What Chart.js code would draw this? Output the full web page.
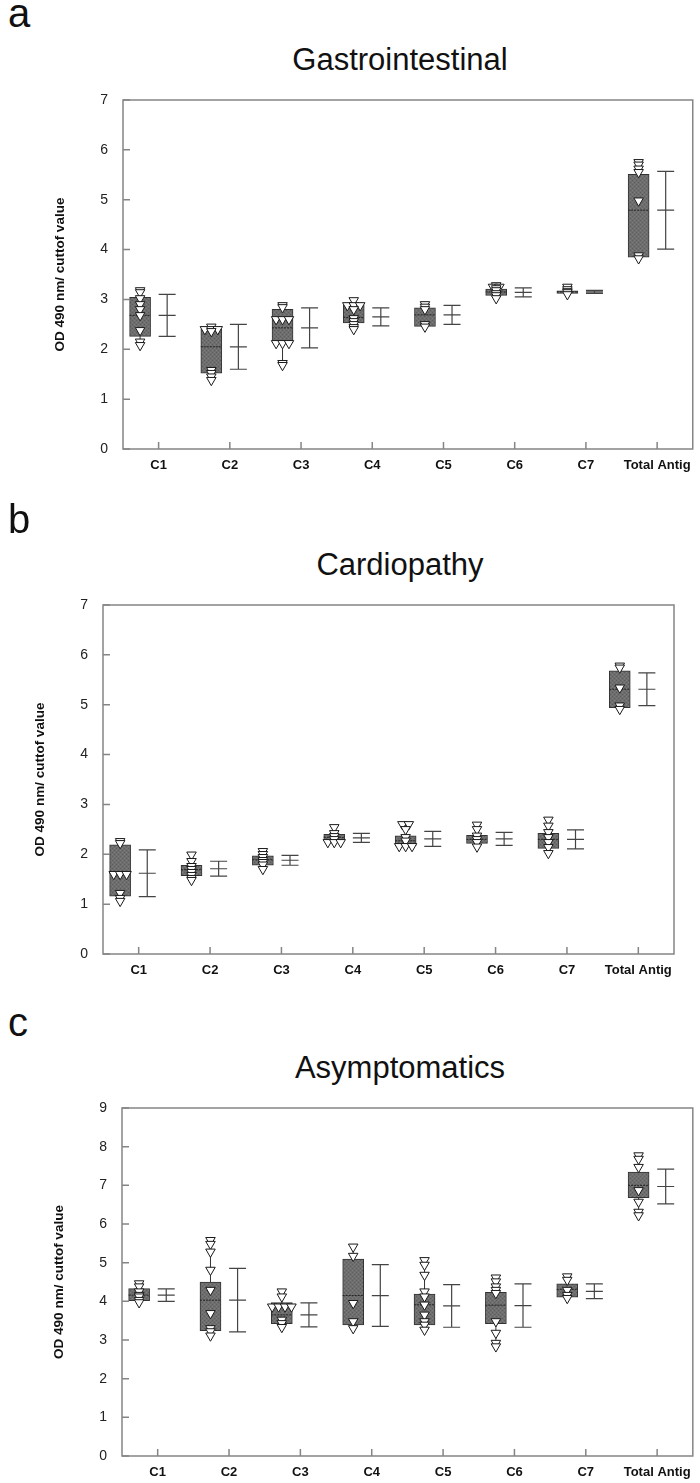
<!DOCTYPE html>
<html>
<head>
<meta charset="utf-8">
<script src="https://cdn.jsdelivr.net/npm/chart.js@4.4.0/dist/chart.umd.min.js"></script>
<style>
  body { margin: 0; background: #fff; font-family: "Liberation Sans", Arial, sans-serif; }
  #page { position: relative; width: 700px; height: 1483px; overflow: hidden; }
  canvas { position: absolute; left: 0; }
  .letter { position: absolute; left: 8px; font-size: 40px; line-height: 40px; color: #111; }
  .title { position: absolute; left: 100px; width: 600px; text-align: center; font-size: 31px; line-height: 31px; color: #111; }
</style>
</head>
<body>
<div id="page">
  <div class="letter" style="top:-7px">a</div>
  <div class="title" style="top:44px">Gastrointestinal</div>
  <canvas id="chartA" width="700" height="500" style="top:0px"></canvas>

  <div class="letter" style="top:499px">b</div>
  <div class="title" style="top:549px">Cardiopathy</div>
  <canvas id="chartB" width="700" height="500" style="top:500px"></canvas>

  <div class="letter" style="top:1002px">c</div>
  <div class="title" style="top:1052px">Asymptomatics</div>
  <canvas id="chartC" width="700" height="483" style="top:1000px"></canvas>
</div>
<script>
const categories = ['C1', 'C2', 'C3', 'C4', 'C5', 'C6', 'C7', 'Total Antig'];
const yLabel = 'OD 490 nm/ cuttof value';

// a - Gastrointestinal
const gastroQ1 = [2.26, 1.52, 2.14, 2.53, 2.46, 3.08, 3.12, 3.85];
const gastroMedian = [2.68, 2.05, 2.43, 2.64, 2.69, 3.15, 3.15, 4.79];
const gastroQ3 = [3.04, 2.40, 2.80, 2.89, 2.83, 3.21, 3.17, 5.51];
const gastroMean = [2.68, 2.05, 2.43, 2.65, 2.69, 3.14, 3.15, 4.79];
const gastroSD = [0.42, 0.45, 0.40, 0.18, 0.19, 0.09, 0.03, 0.78];
const gastroPoints = [
  [3.18, 3.14, 3.02, 2.90, 2.80, 2.68, 2.38, 2.15, 2.08],
  [2.45, 2.40, 2.40, 2.40, 2.36, 1.58, 1.52, 1.45, 1.38],
  [2.88, 2.84, 2.60, 2.60, 2.60, 2.12, 2.12, 2.12, 1.72, 1.68],
  [2.98, 2.88, 2.88, 2.88, 2.80, 2.62, 2.56, 2.50, 2.44, 2.40],
  [2.90, 2.85, 2.80, 2.50, 2.45],
  [3.28, 3.25, 3.25, 3.22, 3.18, 3.12, 3.08, 3.02],
  [3.25, 3.20, 3.16, 3.14, 3.10],
  [5.75, 5.70, 5.62, 5.55, 4.98, 3.88, 3.82]
];

// b - Cardiopathy
const cardioQ1 = [1.16, 1.57, 1.78, 2.29, 2.17, 2.22, 2.12, 4.94];
const cardioMedian = [1.62, 1.69, 1.89, 2.34, 2.27, 2.30, 2.30, 5.31];
const cardioQ3 = [2.19, 1.78, 1.97, 2.40, 2.37, 2.38, 2.42, 5.68];
const cardioMean = [1.62, 1.71, 1.88, 2.33, 2.31, 2.31, 2.30, 5.31];
const cardioSD = [0.47, 0.15, 0.10, 0.09, 0.15, 0.13, 0.19, 0.33];
const cardioPoints = [
  [2.26, 2.22, 1.60, 1.60, 1.60, 1.22, 1.12, 1.06],
  [1.99, 1.86, 1.76, 1.70, 1.64, 1.58, 1.52, 1.48],
  [2.06, 2.00, 1.94, 1.88, 1.84, 1.79, 1.70],
  [2.54, 2.42, 2.36, 2.30, 2.24, 2.24, 2.24],
  [2.60, 2.60, 2.50, 2.34, 2.27, 2.16, 2.16, 2.16],
  [2.59, 2.50, 2.37, 2.30, 2.24, 2.15],
  [2.69, 2.57, 2.44, 2.34, 2.24, 2.14, 2.02],
  [5.78, 5.74, 5.34, 4.98, 4.91]
];

// c - Asymptomatics
const asympQ1 = [4.02, 3.24, 3.42, 3.39, 3.39, 3.42, 4.11, 6.68];
const asympMedian = [4.16, 4.03, 3.65, 4.15, 3.91, 3.90, 4.31, 7.00];
const asympQ3 = [4.33, 4.50, 3.97, 5.09, 4.19, 4.23, 4.45, 7.34];
const asympMean = [4.16, 4.03, 3.65, 4.15, 3.88, 3.89, 4.26, 6.97];
const asympSD = [0.16, 0.82, 0.31, 0.80, 0.55, 0.56, 0.19, 0.45];
const asympPoints = [
  [4.46, 4.38, 4.25, 4.16, 4.12, 4.03, 3.97],
  [5.58, 5.48, 5.28, 4.81, 4.29, 3.69, 3.30, 3.22, 3.11],
  [4.25, 4.12, 3.86, 3.86, 3.86, 3.86, 3.52, 3.43, 3.33],
  [5.41, 5.17, 3.95, 3.48, 3.30],
  [5.06, 4.94, 4.68, 4.25, 4.12, 3.91, 3.65, 3.48, 3.39, 3.26],
  [4.61, 4.51, 4.38, 4.29, 4.21, 3.48, 3.18, 2.92, 2.83],
  [4.64, 4.55, 4.29, 4.16, 4.08],
  [7.77, 7.68, 7.47, 6.87, 6.57, 6.31, 6.22]
];

// where the box and the mean/sd bar sit around each category tick (x units)
const BOX_SHIFT = -0.26;
const ERR_SHIFT = 0.12;
const DODGE = 0.09;

function hatchPattern() {
  const c = document.createElement('canvas');
  c.width = 4; c.height = 4;
  const g = c.getContext('2d');
  g.fillStyle = '#6e6e6e';
  g.fillRect(0, 0, 4, 4);
  g.fillStyle = '#5c5c5c';
  g.fillRect(0, 0, 1, 1);
  g.fillRect(2, 2, 1, 1);
  g.fillStyle = '#7c7c7c';
  g.fillRect(2, 0, 1, 1);
  g.fillRect(0, 2, 1, 1);
  return g.createPattern(c, 'repeat');
}

// same values get put side by side, like the original scatter overlay
function spreadPoints(points) {
  const out = [];
  points.forEach((vals, i) => {
    const counts = {};
    vals.forEach(v => { counts[v] = (counts[v] || 0) + 1; });
    const seen = {};
    vals.forEach(v => {
      seen[v] = (seen[v] || 0) + 1;
      const off = (seen[v] - 1 - (counts[v] - 1) / 2) * DODGE;
      out.push({ x: i + 1 + BOX_SHIFT + off, y: v });
    });
  });
  return out;
}

function extras(stats) {
  return {
    id: 'boxExtras',
    beforeDatasetsDraw(chart) {
      // whiskers, under the boxes
      const { ctx, scales: { x, y } } = chart;
      ctx.save();
      ctx.strokeStyle = '#333';
      ctx.lineWidth = 1;
      stats.points.forEach((vals, i) => {
        const px = x.getPixelForValue(i + 1 + BOX_SHIFT);
        ctx.beginPath();
        ctx.moveTo(px, y.getPixelForValue(Math.max(...vals)));
        ctx.lineTo(px, y.getPixelForValue(Math.min(...vals)));
        ctx.stroke();
      });
      ctx.restore();
    },
    afterDatasetDraw(chart, args) {
      if (args.meta.type !== 'bar') return;
      const { ctx, scales: { x, y } } = chart;
      ctx.save();
      ctx.strokeStyle = '#222';
      ctx.lineWidth = 1;
      ctx.setLineDash([2, 1]);
      stats.median.forEach((m, i) => {
        const px = x.getPixelForValue(i + 1 + BOX_SHIFT);
        const py = y.getPixelForValue(m);
        ctx.beginPath();
        ctx.moveTo(px - 10.5, py);
        ctx.lineTo(px + 10.5, py);
        ctx.stroke();
      });
      ctx.restore();
    },
    afterDatasetsDraw(chart) {
      const { ctx, chartArea: a, scales: { x, y } } = chart;
      ctx.save();
      // mean +/- sd
      ctx.strokeStyle = '#444';
      ctx.lineWidth = 1.2;
      stats.mean.forEach((m, i) => {
        const px = x.getPixelForValue(i + 1 + ERR_SHIFT);
        const top = y.getPixelForValue(m + stats.sd[i]);
        const mid = y.getPixelForValue(m);
        const bot = y.getPixelForValue(m - stats.sd[i]);
        ctx.beginPath();
        ctx.moveTo(px, top); ctx.lineTo(px, bot);
        [top, mid, bot].forEach(py => { ctx.moveTo(px - 8.5, py); ctx.lineTo(px + 8.5, py); });
        ctx.stroke();
      });
      // frame and inward ticks
      ctx.strokeStyle = '#858585';
      ctx.lineWidth = 1.5;
      ctx.strokeRect(a.left, a.top, a.right - a.left, a.bottom - a.top);
      ctx.beginPath();
      x.ticks.forEach(t => {
        const px = x.getPixelForValue(t.value);
        ctx.moveTo(px, a.bottom); ctx.lineTo(px, a.bottom - 7);
      });
      y.ticks.forEach(t => {
        const py = y.getPixelForValue(t.value);
        ctx.moveTo(a.left, py); ctx.lineTo(a.left + 7, py);
      });
      ctx.stroke();
      ctx.restore();
    }
  };
}

function makePanel(id, q1, median, q3, mean, sd, points, yMax, box) {
  const stats = { median, mean, sd, points };
  return new Chart(document.getElementById(id), {
    type: 'bar',
    data: {
      datasets: [
        {
          type: 'scatter',
          data: spreadPoints(points),
          pointStyle: 'triangle',
          rotation: 180,
          radius: 5.5,
          backgroundColor: '#fff',
          borderColor: '#1a1a1a',
          borderWidth: 1,
          order: 1
        },
        {
          type: 'bar',
          data: q1.map((lo, i) => ({ x: i + 1 + BOX_SHIFT, y: [lo, q3[i]] })),
          backgroundColor: hatchPattern(),
          borderColor: '#333',
          borderWidth: 1,
          borderSkipped: false,
          barThickness: 21,
          order: 2
        }
      ]
    },
    options: {
      responsive: false,
      animation: false,
      devicePixelRatio: 1,
      layout: { padding: { top: box.top, right: box.right, bottom: box.bottom, left: 0 } },
      plugins: { legend: { display: false }, tooltip: { enabled: false } },
      scales: {
        x: {
          type: 'linear',
          offset: false,
          min: 0.5,
          max: 8.5,
          afterBuildTicks: s => { s.ticks = categories.map((c, i) => ({ value: i + 1 })); },
          afterFit: s => { s.height = box.xHeight; },
          grid: { display: false, drawTicks: false, offset: false },
          border: { display: false },
          ticks: {
            autoSkip: false,
            maxRotation: 0,
            padding: 9,
            color: '#111',
            font: { family: 'Liberation Sans', size: 13, weight: 'bold' },
            callback: v => categories[v - 1]
          }
        },
        y: {
          min: 0,
          max: yMax,
          afterFit: s => { s.width = box.left; },
          grid: { display: false, drawTicks: false },
          border: { display: false },
          ticks: {
            stepSize: 1,
            padding: 15,
            color: '#222',
            font: { family: 'Liberation Sans', size: 14 }
          },
          title: {
            display: true,
            text: yLabel,
            color: '#111',
            padding: { top: box.left - 71 },
            font: { family: 'Liberation Sans', size: 13.5, weight: 'bold' }
          }
        }
      }
    },
    plugins: [extras(stats)]
  });
}

makePanel('chartA', gastroQ1, gastroMedian, gastroQ3, gastroMean, gastroSD, gastroPoints, 7,
  { top: 100, right: 6, bottom: 21, left: 123, xHeight: 30 });
makePanel('chartB', cardioQ1, cardioMedian, cardioQ3, cardioMean, cardioSD, cardioPoints, 7,
  { top: 105, right: 26, bottom: 16, left: 103, xHeight: 30 });
makePanel('chartC', asympQ1, asympMedian, asympQ3, asympMean, asympSD, asympPoints, 9,
  { top: 108, right: 6, bottom: 0, left: 122, xHeight: 27 });
</script>
</body>
</html>
